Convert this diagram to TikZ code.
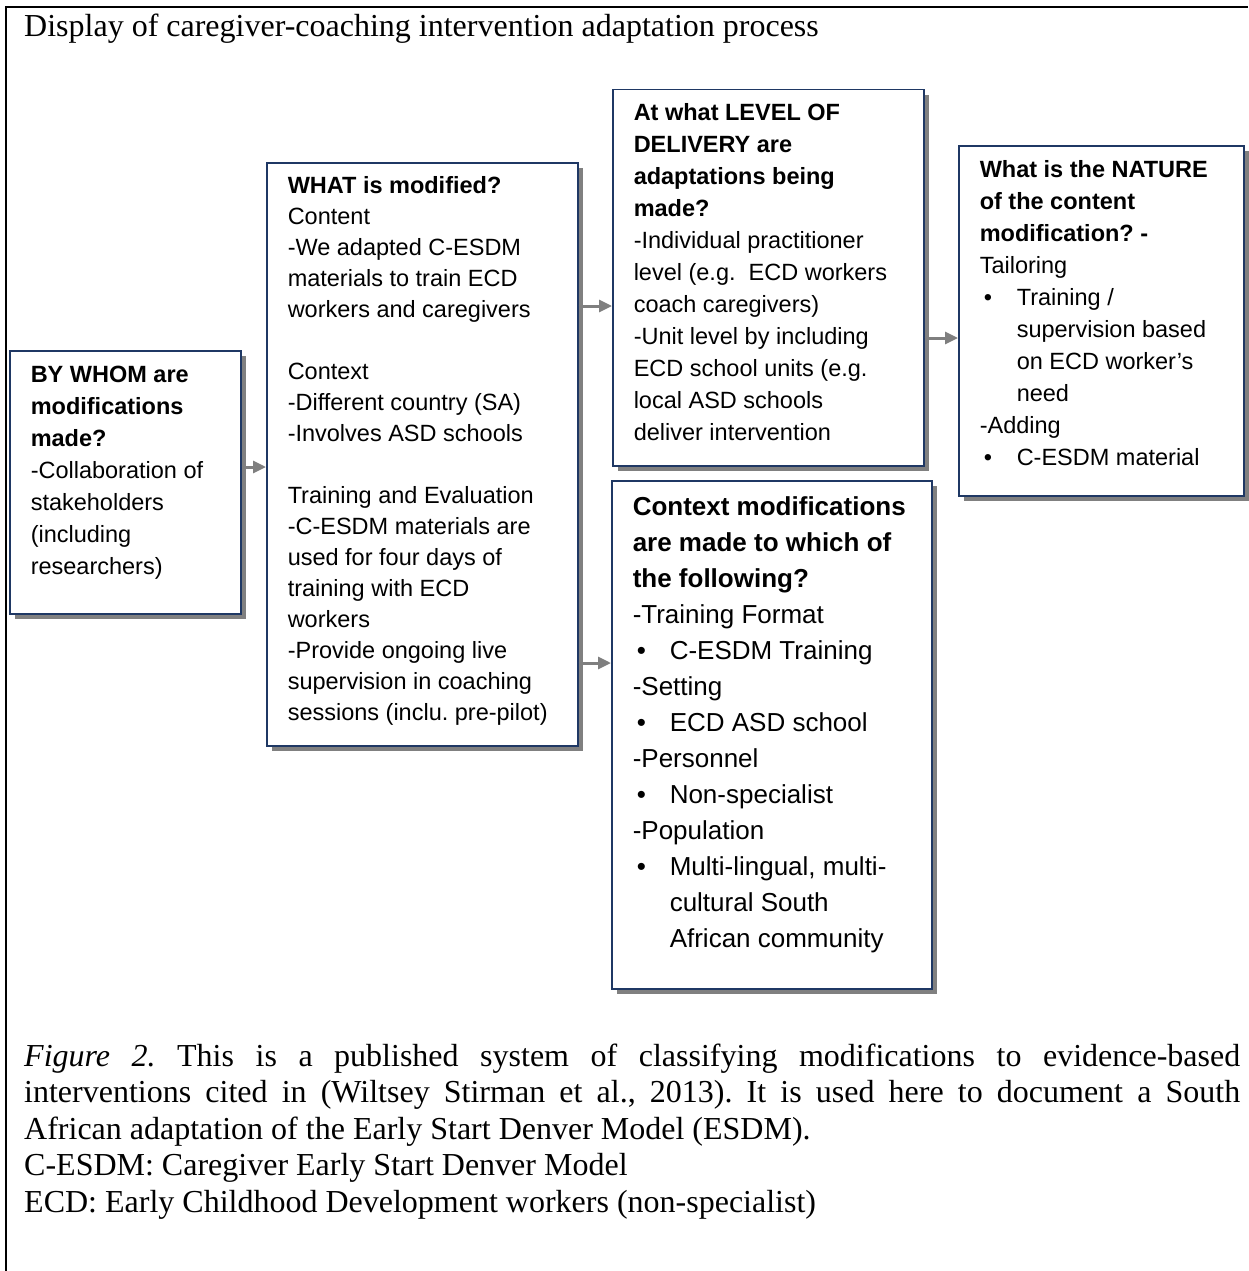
\documentclass[tikz,border=0pt]{standalone}
\usepackage{fontspec}
\setmainfont{Liberation Serif}
\setsansfont{Liberation Sans}
\usetikzlibrary{arrows.meta,shadows}

\definecolor{boxnavy}{HTML}{1F3864}
\definecolor{flowgray}{HTML}{7F7F7F}

% top-aligned box body: width, height, first baseline, text
\newcommand{\stagebody}[4]{\parbox[t][#2][t]{#1}{\raggedright\rule{0pt}{#3}#4}}
\newcommand{\bitem}{\hspace*{4pt}\makebox[33pt][l]{\textbullet}}
\newcommand{\bcont}{\hspace*{37pt}}

\begin{document}
\frenchspacing
\begin{tikzpicture}[
    x=1pt, y=-1pt,
    stage/.style={draw=boxnavy, line width=1.5pt, fill=white, anchor=north west,
        inner xsep=21pt, inner ysep=0pt,
        font=\sffamily\fontsize{23.5}{32}\selectfont,
        drop shadow={shadow xshift=5pt, shadow yshift=-5pt, fill=black!50, opacity=1}},
    flow/.style={-{Triangle[length=13pt,width=12pt]}, line width=3pt, draw=flowgray},
    note/.style={anchor=base west, inner sep=0pt, font=\fontsize{32}{36.5}\selectfont}
]
    \useasboundingbox (0,0) rectangle (1248,1271);

    % frame and title
    \draw[line width=2pt] (6,1271) -- (6,7.5) -- (1248,7.5);
    \node[note] (title) at (24,37) {Display of caregiver-coaching intervention adaptation process};

    % stages
    \node[stage] (whom) at (9,350) {\stagebody{189pt}{263pt}{32pt}{%
        \textbf{BY WHOM are}\\ \textbf{modifications}\\ \textbf{made?}\\
        -Collaboration of\\ stakeholders\\ (including\\ researchers)}};
    \node[stage, font=\sffamily\fontsize{23.5}{31}\selectfont] (what) at (266,162) {\stagebody{269pt}{583pt}{31pt}{%
        \textbf{WHAT is modified?}\\ Content\\ -We adapted C-ESDM\\ materials to train ECD\\ workers and caregivers\\ \mbox{}\\
        Context\\ -Different country (SA)\\ -Involves ASD schools\\ \mbox{}\\
        Training and Evaluation\\ -C-ESDM materials are\\ used for four days of\\ training with ECD\\ workers\\
        -Provide ongoing live\\ supervision in coaching\\ sessions (inclu. pre-pilot)}};
    \node[stage] (level) at (612,89) {\stagebody{269pt}{376pt}{31pt}{%
        \textbf{At what LEVEL OF}\\ \textbf{DELIVERY are}\\ \textbf{adaptations being}\\ \textbf{made?}\\
        -Individual practitioner\\ level (e.g.\ \ ECD workers\\ coach caregivers)\\
        -Unit level by including\\ ECD school units (e.g.\\ local ASD schools\\ deliver intervention}};
    \node[stage] (nature) at (958,145) {\stagebody{243pt}{350pt}{32pt}{%
        \textbf{What is the NATURE}\\ \textbf{of the content}\\ \textbf{modification? -}\\ Tailoring\\
        \bitem Training /\\ \bcont supervision based\\ \bcont on ECD worker’s\\ \bcont need\\
        -Adding\\ \bitem C-ESDM material}};
    \node[stage, font=\sffamily\fontsize{26}{36}\selectfont] (context) at (611,480) {\stagebody{278pt}{508pt}{35pt}{%
        \textbf{Context modifications}\\ \textbf{are made to which of}\\ \textbf{the following?}\\
        -Training Format\\ \bitem C-ESDM Training\\ -Setting\\ \bitem ECD ASD school\\
        -Personnel\\ \bitem Non-specialist\\ -Population\\
        \bitem Multi-lingual, multi-\\ \bcont cultural South\\ \bcont African community}};

    % flow between stages
    \draw[flow] (whom.east |- 0,467) -- (what.west |- 0,467);
    \draw[flow] (what.east |- 0,306) -- (level.west |- 0,306);
    \draw[flow] (what.east |- 0,663) -- (context.west |- 0,663);
    \draw[flow] (level.east |- 0,338) -- (nature.west |- 0,338);

    % caption
    \node[note] (caption) at (24,1066) {\parbox[t]{1216pt}{\hyphenpenalty=10000
        \textit{Figure 2.} This is a published system of classifying modifications to evidence-based\linebreak
        interventions cited in (Wiltsey Stirman et al., 2013). It is used here to document a South\linebreak
        African adaptation of the Early Start Denver Model (ESDM).\\
        C-ESDM: Caregiver Early Start Denver Model\\
        ECD: Early Childhood Development workers (non-specialist)}};
\end{tikzpicture}
\end{document}
